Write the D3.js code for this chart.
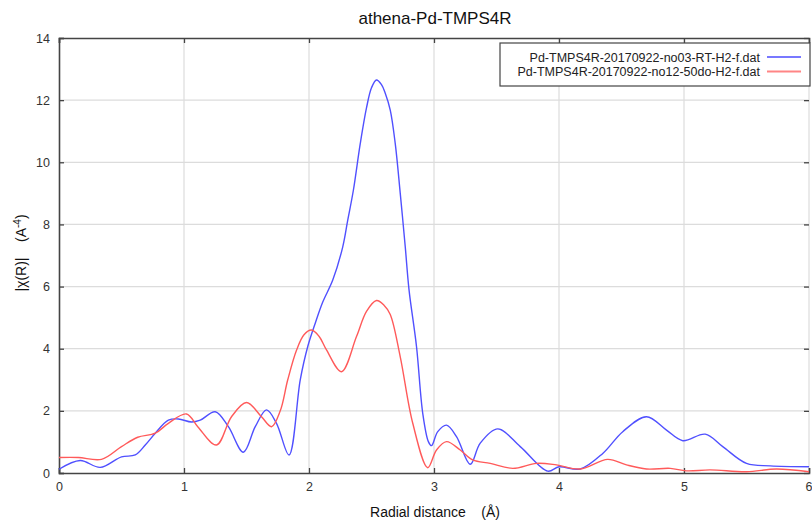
<!DOCTYPE html>
<html>
<head>
<meta charset="utf-8">
<script src="https://cdn.jsdelivr.net/npm/d3@7"></script>
<style>
  body { margin: 0; background: #fff; }
  svg { font-family: "Liberation Sans", Arial, sans-serif; }
</style>
</head>
<body>
<div id="chart"></div>
<script>
// radial distance (Å) and |chi(R)| values
var blueR = [0, 0.17, 0.33, 0.5, 0.61, 0.69, 0.77, 0.875, 0.955, 1.06, 1.13, 1.25, 1.355, 1.475, 1.57, 1.66, 1.74, 1.84,
    1.93, 1.99, 2.05, 2.11, 2.19, 2.27, 2.31, 2.355, 2.41, 2.46, 2.5, 2.54, 2.58, 2.61, 2.65, 2.69, 2.73, 2.77, 2.8, 2.86, 2.91, 2.955,
    2.98, 3.03, 3.1, 3.18, 3.29, 3.37, 3.51, 3.69, 3.91, 4.0, 4.17, 4.35, 4.51, 4.7, 4.86, 4.99, 5.17, 5.31, 5.5, 5.69, 6.0];
var blueV = [0.12, 0.4, 0.18, 0.52, 0.58, 0.9, 1.28, 1.7, 1.74, 1.64, 1.7, 1.97, 1.49, 0.67, 1.49, 2.03, 1.6, 0.58,
    3.0, 4.07, 4.82, 5.5, 6.21, 7.28, 8.14, 9.1, 10.6, 11.75, 12.4, 12.65, 12.5, 12.22, 11.68, 10.6, 9.0, 7.28, 5.9, 4.07, 1.92, 1.01,
    0.88, 1.33, 1.54, 1.17, 0.28, 0.96, 1.42, 0.85, 0.06, 0.2, 0.13, 0.63, 1.33, 1.81, 1.38, 1.04, 1.25, 0.85, 0.31, 0.23, 0.2];

var redR = [0, 0.155, 0.34, 0.5, 0.63, 0.77, 0.875, 1.02, 1.11, 1.26, 1.38, 1.5, 1.62, 1.7, 1.77, 1.83, 1.9, 1.96, 2.02, 2.08, 2.14, 2.26,
    2.38, 2.46, 2.54, 2.6, 2.65, 2.73, 2.83, 2.95, 3.02, 3.1, 3.21, 3.31, 3.45, 3.63, 3.82, 3.98, 4.17, 4.39, 4.54, 4.7, 4.89, 5.02,
    5.21, 5.5, 5.74, 6.0];
var redV = [0.5, 0.5, 0.44, 0.85, 1.15, 1.28, 1.6, 1.9, 1.49, 0.9, 1.81, 2.27, 1.81, 1.49, 2.0, 3.0, 3.95, 4.45, 4.6, 4.4, 3.96, 3.26,
    4.39, 5.2, 5.55, 5.4, 5.1, 3.74, 1.6, 0.17, 0.74, 1.01, 0.74, 0.42, 0.31, 0.15, 0.31, 0.26, 0.13, 0.44, 0.26, 0.13, 0.15, 0.07,
    0.1, 0.04, 0.13, 0.04];

var seriesNames = ['Pd-TMPS4R-20170922-no03-RT-H2-f.dat', 'Pd-TMPS4R-20170922-no12-50do-H2-f.dat'];
var seriesColors = ['#5050ff', '#ff5a5a'];
var legendColors = ['#4b4bff', '#ff8585'];
var xTicks = [0, 1, 2, 3, 4, 5, 6];
var yTicks = [0, 2, 4, 6, 8, 10, 12, 14];

var svgWidth = 812,
    svgHeight = 521,
    margin = { top: 38, right: 3, bottom: 48, left: 59 },
    width = svgWidth - margin.left - margin.right,
    height = svgHeight - margin.top - margin.bottom;

var x = d3.scaleLinear().domain([0, 6]).range([0, 750]),
    y = d3.scaleLinear().domain([0, 14]).range([height, 0]);

var svg = d3.select('#chart').append('svg')
    .attr('width', svgWidth)
    .attr('height', svgHeight);

var g = svg.append('g')
    .attr('transform', 'translate(' + margin.left + ',' + margin.top + ')');

// grid
g.append('g').selectAll('line').data(xTicks.slice(1)).enter().append('line')
    .attr('x1', d => x(d)).attr('x2', d => x(d))
    .attr('y1', 0).attr('y2', height)
    .attr('stroke', '#dcdcdc').attr('stroke-width', 1.2);
g.append('g').selectAll('line').data(yTicks.slice(1, -1)).enter().append('line')
    .attr('x1', 0).attr('x2', width)
    .attr('y1', d => y(d)).attr('y2', d => y(d))
    .attr('stroke', '#dcdcdc').attr('stroke-width', 1.2);

// axes
var xAxis = d3.axisBottom(x).tickValues(xTicks).tickFormat(d3.format('d')).tickSize(-5).tickPadding(9),
    yAxis = d3.axisLeft(y).tickValues(yTicks).tickFormat(d3.format('d')).tickSize(-5).tickPadding(9),
    xTop = d3.axisTop(x).tickValues(xTicks).tickSize(-5).tickFormat(''),
    yRight = d3.axisRight(y).tickValues(yTicks).tickSize(-5).tickFormat('');

function styleAxis(sel) {
    sel.select('.domain').attr('stroke', '#444').attr('stroke-width', 1.6);
    sel.selectAll('.tick line').attr('stroke', '#444').attr('stroke-width', 1.3);
    sel.selectAll('.tick text').attr('fill', '#333').style('font-size', '12.5px');
}

var gx = g.append('g').attr('transform', 'translate(0,' + height + ')').call(xAxis).call(styleAxis);
// last label sits at the window edge; keep it inside
gx.selectAll('.tick text').filter(d => d === 6).attr('text-anchor', 'end').attr('dx', 3);
g.append('g').call(yAxis).call(styleAxis);
g.append('g').call(xTop).call(styleAxis);
g.append('g').attr('transform', 'translate(' + x(6) + ',0)').call(yRight).call(styleAxis)
    .select('.domain').attr('stroke', 'none');

// curves
var line = d3.line()
    .x(d => x(d[0]))
    .y(d => y(d[1]))
    .curve(d3.curveCatmullRom.alpha(0.5));

var series = [d3.zip(blueR, blueV), d3.zip(redR, redV)];

g.append('g').selectAll('path').data(series).enter().append('path')
    .attr('d', line)
    .attr('fill', 'none')
    .attr('stroke', (d, i) => seriesColors[i])
    .attr('stroke-width', 1.4);

// legend
var legend = svg.append('g');
legend.append('rect')
    .attr('x', 500).attr('y', 43)
    .attr('width', 310).attr('height', 43)
    .attr('fill', '#fff').attr('stroke', '#444').attr('stroke-width', 1.2);
seriesNames.forEach(function (name, i) {
    var yy = 57 + i * 14.5;
    legend.append('text')
        .attr('x', 760).attr('y', yy + 4.5)
        .attr('text-anchor', 'end')
        .attr('fill', '#222')
        .style('font-size', '12.5px')
        .text(name);
    legend.append('line')
        .attr('x1', 767).attr('x2', 801)
        .attr('y1', yy).attr('y2', yy)
        .attr('stroke', legendColors[i]).attr('stroke-width', i ? 2 : 1.4);
});

// titles
svg.append('text')
    .attr('x', 435).attr('y', 24)
    .attr('text-anchor', 'middle')
    .attr('fill', '#111')
    .style('font-size', '17px')
    .text('athena-Pd-TMPS4R');

svg.append('text')
    .attr('x', 435).attr('y', 517)
    .attr('text-anchor', 'middle')
    .attr('fill', '#111')
    .style('font-size', '14px')
    .attr('xml:space', 'preserve')
    .text('Radial distance    (Å)');

var ylab = svg.append('text')
    .attr('transform', 'translate(26,253) rotate(-90)')
    .attr('text-anchor', 'middle')
    .attr('fill', '#111')
    .style('font-size', '14px')
    .attr('xml:space', 'preserve');
ylab.append('tspan').text('|χ(R)|    (A');
ylab.append('tspan').attr('dy', -5).style('font-size', '10px').text('-4');
ylab.append('tspan').attr('dy', 5).text(')');
</script>
</body>
</html>
